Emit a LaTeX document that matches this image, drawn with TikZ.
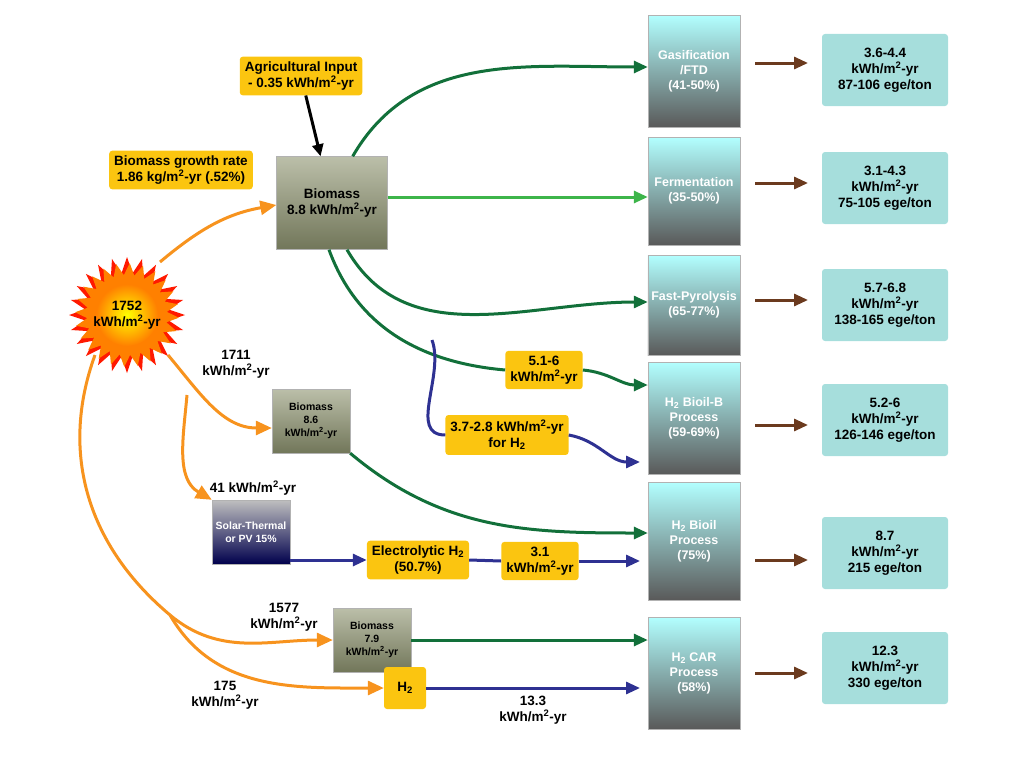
\documentclass[tikz,border=0pt]{standalone}
\usepackage{fontspec}
\setmainfont{Liberation Sans}
\usetikzlibrary{arrows.meta,positioning}
\definecolor{boxyellow}{HTML}{FBC510}
\definecolor{boxteal}{HTML}{A6DEDC}
\definecolor{dkgreen}{HTML}{12703A}
\definecolor{ltgreen}{HTML}{3DB54A}
\definecolor{flowblue}{HTML}{2E3192}
\definecolor{flowbrown}{HTML}{6B3A1E}
\definecolor{sunorange}{HTML}{F7931E}
\definecolor{grass}{HTML}{8E9470}
\tikzset{
  txt/.style={font=\fontsize{13.5}{16}\selectfont\bfseries, align=center, text=black},
  ybox/.style={txt, fill=boxyellow, rounded corners=3pt, inner sep=5pt},
  tbox/.style={txt, fill=boxteal, rounded corners=3pt, minimum width=126pt, minimum height=72pt},
  crop/.style={txt, draw=gray!60, top color=grass!60!white, bottom color=grass!80!black, minimum width=78pt, minimum height=64pt, font=\fontsize{10.5}{13}\selectfont\bfseries},
  plant/.style={txt, draw=gray!60, top color=cyan!30!white, bottom color=gray!70!black, text=white, minimum width=92pt, minimum height=112pt, anchor=north, font=\fontsize{12.5}{15}\selectfont\bfseries},
  garrow/.style={-{Triangle[length=14pt,width=12pt]}, line width=3pt, dkgreen},
  barrow/.style={-{Triangle[length=14pt,width=12pt]}, line width=3pt, flowblue},
  oarrow/.style={-{Triangle[length=16pt,width=14pt]}, line width=3pt, sunorange},
  brarrow/.style={-{Triangle[length=14pt,width=12pt]}, line width=3pt, flowbrown},
  lbl/.style={txt}
}
\begin{document}
\begin{tikzpicture}[x=1pt,y=-1pt]
\useasboundingbox (0,0) rectangle (1024,768);

% sun
\begin{scope}[shift={(127,315)}]
\fill[red!80!orange] \foreach \a [count=\i] in {0,15,...,345}
  {\ifnum\i=1 (\a:58) \else -- (\a:58) \fi -- (\a+7.5:42)} -- cycle;
\fill[orange] \foreach \a [count=\i] in {0,15,...,345}
  {\ifnum\i=1 (\a+3:52) \else -- (\a+3:52) \fi -- (\a+10.5:40)} -- cycle;
\shade[inner color=yellow, outer color=orange] (0,0) circle (31);
\end{scope}
\node[lbl] (sun) at (127,315) {1752\\kWh/m\textsuperscript{2}-yr};

% inputs
\node[ybox] (agri) at (301,76) {Agricultural Input\\- 0.35 kWh/m\textsuperscript{2}-yr};
\node[ybox] (rate) at (181,170) {Biomass growth rate\\1.86 kg/m\textsuperscript{2}-yr (.52\%)};
\node[crop, minimum width=111pt, minimum height=93pt, font=\fontsize{13.5}{16}\selectfont\bfseries] (bio) at (332,203) {Biomass\\8.8 kWh/m\textsuperscript{2}-yr};
\node[crop] (bioa) at (311,421) {Biomass\\8.6\\kWh/m\textsuperscript{2}-yr};
\node[crop, top color=gray!50, bottom color=blue!30!black, text=white] (solar) at (251,532) {Solar-Thermal\\or PV 15\%};
\node[crop] (biob) at (372,640) {Biomass\\7.9\\kWh/m\textsuperscript{2}-yr};
\node[ybox] (elec) at (418,560) {Electrolytic H\textsubscript{2}\\(50.7\%)};
\node[ybox] (elecv) at (540,561) {3.1\\kWh/m\textsuperscript{2}-yr};
\node[ybox, minimum size=42pt] (htwo) at (405,688) {H\textsubscript{2}};
\node[ybox] (bilv) at (544,370) {5.1-6\\kWh/m\textsuperscript{2}-yr};
\node[ybox] (hlv) at (507,435) {3.7-2.8 kWh/m\textsuperscript{2}-yr\\for H\textsubscript{2}};

% processes
\node[plant] (gas) at (694,15) {Gasification\\/FTD\\(41-50\%)};
\node[plant, minimum height=108pt] (ferm) at (694,137) {Fermentation\\(35-50\%)};
\node[plant, minimum height=100pt] (pyro) at (694,255) {Fast-Pyrolysis\\(65-77\%)};
\node[plant] (bilb) at (694,362) {H\textsubscript{2} Bioil-B\\Process\\(59-69\%)};
\node[plant, minimum height=118pt] (bil) at (694,482) {H\textsubscript{2} Bioil\\Process\\(75\%)};
\node[plant] (car) at (694,617) {H\textsubscript{2} CAR\\Process\\(58\%)};

% results
\node[tbox] (rgas) at (885,70) {3.6-4.4\\kWh/m\textsuperscript{2}-yr\\87-106 ege/ton};
\node[tbox] (rferm) at (885,188) {3.1-4.3\\kWh/m\textsuperscript{2}-yr\\75-105 ege/ton};
\node[tbox] (rpyro) at (885,305) {5.7-6.8\\kWh/m\textsuperscript{2}-yr\\138-165 ege/ton};
\node[tbox] (rbilb) at (885,420) {5.2-6\\kWh/m\textsuperscript{2}-yr\\126-146 ege/ton};
\node[tbox] (rbil) at (885,553) {8.7\\kWh/m\textsuperscript{2}-yr\\215 ege/ton};
\node[tbox] (rcar) at (885,668) {12.3\\kWh/m\textsuperscript{2}-yr\\330 ege/ton};
\foreach \r/\y in {gas/63,ferm/183,pyro/300,bilb/425,bil/560,car/673}
  \draw[brarrow] (755,\y) -- (808,\y);

% biomass flows
\draw[-{Triangle[length=12pt,width=11pt]}, line width=3pt] (agri) -- (bio);
\draw[garrow] (bio.north east) ++(-35,0) to[out=60,in=180] (gas.west |- 0,67);
\draw[garrow, ltgreen] (bio.east) ++(0,-6) -- (ferm.west |- 0,197);
\draw[garrow] (bio.south) ++(15,0) to[out=-60,in=180] (pyro.west |- 0,302);
\draw[line width=3pt, dkgreen] (bio.south) ++(-3,0) to[out=-70,in=175] (bilv.west);
\draw[garrow] (bilv.east) to[out=-5,in=180] (bilb.west |- 0,385);
\draw[line width=3pt, flowblue] (432,340) to[out=-70,in=180] (hlv.west);
\draw[barrow] (hlv.east) to[out=-10,in=180] (640,462);
\draw[garrow] (bioa.south east) to[out=-40,in=180] (bil.west |- 0,533);
\draw[barrow] (solar.east |- elec.west) -- (elec.west);
\draw[line width=3pt, flowblue] (elec.east) -- (elecv.west);
\draw[barrow] (elecv.east) -- (640,561);
\draw[garrow] (biob.east) -- (car.west |- biob.east);
\draw[barrow] (htwo.east) -- (640,688) node[lbl, midway, below=3pt] {13.3\\kWh/m\textsuperscript{2}-yr};

% solar flows
\draw[oarrow] (160,262) to[out=40,in=190] (bio.west |- 0,205);
\draw[oarrow] (168,355) to[out=-50,in=180] (bioa.west |- 0,428);
\draw[oarrow] (187,395) to[out=-95,in=150] (solar.north west);
\coordinate (split) at (170,615);
\draw[line width=3pt, sunorange] (95,355) to[out=-110,in=140] (split);
\draw[oarrow] (split) to[out=-40,in=180] (biob.west);
\draw[oarrow] (split) to[out=-60,in=180] (htwo.west);
\node[lbl] (lsa) at (236,364) {1711\\kWh/m\textsuperscript{2}-yr};
\node[lbl] (lsb) at (253,488) {41 kWh/m\textsuperscript{2}-yr};
\node[lbl] (lsc) at (284,617) {1577\\kWh/m\textsuperscript{2}-yr};
\node[lbl] (lsd) at (225,695) {175\\kWh/m\textsuperscript{2}-yr};
\end{tikzpicture}
\end{document}
